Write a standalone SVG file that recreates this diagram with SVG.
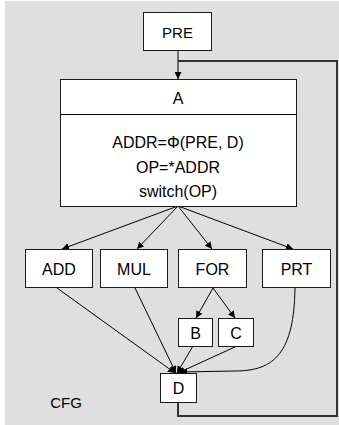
<svg xmlns="http://www.w3.org/2000/svg" width="339" height="425" viewBox="0 0 339 425">
<defs>
<style>
.bg{fill:#dfdfdf}
.box{fill:#ffffff;stroke:#1a1a1a;stroke-width:1}
.t{font-family:"Liberation Sans",Arial,sans-serif;font-size:16px;fill:#000;text-anchor:middle}
.e{fill:none;stroke:#000;stroke-width:1}
.loop{fill:none;stroke:#333;stroke-width:2}
</style>
<marker id="ah" viewBox="0 0 10 10" refX="10" refY="5" markerWidth="7" markerHeight="7" markerUnits="userSpaceOnUse" orient="auto">
<path d="M0,0 L10,5 L0,10 z" fill="#000"/>
</marker>
</defs>
<rect class="bg" x="5" y="1" width="334" height="424"/>
<g id="connectors">
<path class="loop" d="M178,402 V416 H337 V61 H178"/>
<line class="e" x1="178" y1="50" x2="178" y2="79" marker-end="url(#ah)"/>
<line class="e" x1="178" y1="206" x2="62" y2="249" marker-end="url(#ah)"/>
<line class="e" x1="178" y1="206" x2="137" y2="249" marker-end="url(#ah)"/>
<line class="e" x1="178" y1="206" x2="212" y2="249" marker-end="url(#ah)"/>
<line class="e" x1="178" y1="206" x2="293" y2="249" marker-end="url(#ah)"/>
<line class="e" x1="213" y1="288" x2="196" y2="318" marker-end="url(#ah)"/>
<line class="e" x1="213" y1="288" x2="235" y2="318" marker-end="url(#ah)"/>
<line class="e" x1="57" y1="288" x2="175" y2="373" marker-end="url(#ah)"/>
<line class="e" x1="135" y1="288" x2="176" y2="373" marker-end="url(#ah)"/>
<line class="e" x1="193" y1="346" x2="177" y2="373" marker-end="url(#ah)"/>
<line class="e" x1="237" y1="346" x2="178" y2="373" marker-end="url(#ah)"/>
<path class="e" d="M295,288 C294,352 275,371 235,371 L180,372" marker-end="url(#ah)"/>
</g>
<g id="PRE">
<rect class="box" x="143.5" y="12.5" width="68" height="38"/>
<text class="t" x="177.5" y="38" style="font-size:15px">PRE</text>
</g>
<g id="A">
<rect class="box" x="60.5" y="79.5" width="236" height="127"/>
<line class="e" x1="60.5" y1="114.5" x2="296.5" y2="114.5"/>
<text class="t" x="178" y="104">A</text>
<text class="t" x="178" y="148">ADDR=Φ(PRE, D)</text>
<text class="t" x="178" y="173">OP=*ADDR</text>
<text class="t" x="178" y="197">switch(OP)</text>
</g>
<g id="ADD">
<rect class="box" x="25.5" y="249.5" width="67" height="38"/>
<text class="t" x="59" y="275">ADD</text>
</g>
<g id="MUL">
<rect class="box" x="100.5" y="249.5" width="67" height="38"/>
<text class="t" x="134" y="275">MUL</text>
</g>
<g id="FOR">
<rect class="box" x="178.5" y="249.5" width="68" height="38"/>
<text class="t" x="212.5" y="275">FOR</text>
</g>
<g id="PRT">
<rect class="box" x="262.5" y="249.5" width="68" height="38"/>
<text class="t" x="296.5" y="275">PRT</text>
</g>
<g id="B">
<rect class="box" x="178.5" y="318.5" width="34" height="28"/>
<text class="t" x="195.5" y="339">B</text>
</g>
<g id="C">
<rect class="box" x="218.5" y="318.5" width="35" height="28"/>
<text class="t" x="236" y="339">C</text>
</g>
<g id="D">
<rect class="box" x="160.5" y="373.5" width="36" height="29"/>
<text class="t" x="178.5" y="394">D</text>
</g>
<text class="t" x="66" y="408" style="font-size:15px">CFG</text>
</svg>
